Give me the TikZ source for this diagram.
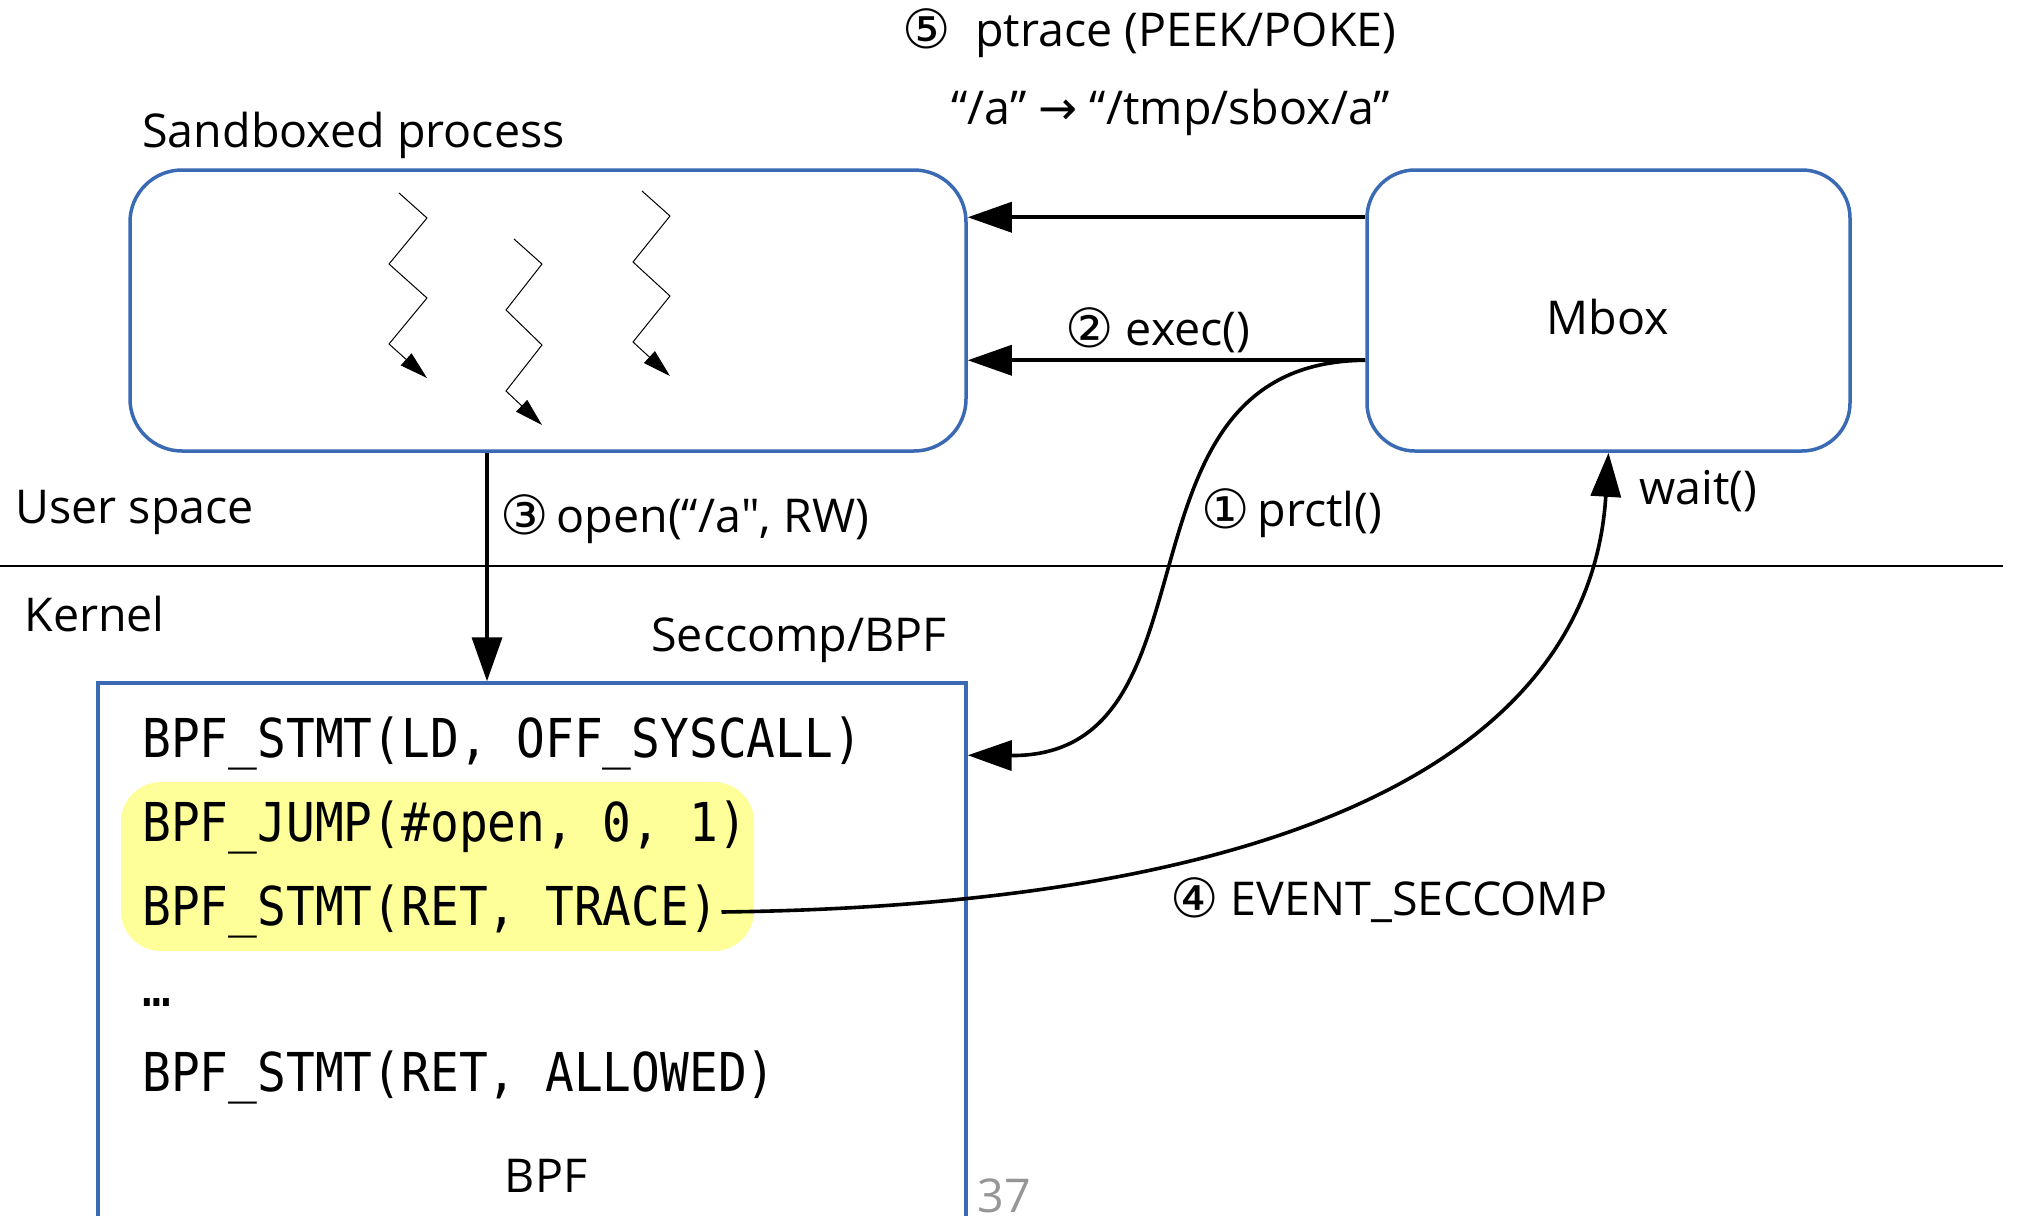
\documentclass[tikz,border=0pt]{standalone}
\usepackage{fontspec}
\setmainfont{Open Sans}
\newfontfamily\codefont[FakeStretch=0.892]{DejaVu Sans Mono}
\newfontfamily\symfont{DejaVu Sans}
\usetikzlibrary{arrows.meta,calc}

\definecolor{frameblue}{RGB}{59,106,180}
\definecolor{hiyellow}{RGB}{255,255,153}
\definecolor{pagenum}{RGB}{150,150,150}

\tikzset{
  frame/.style={draw=frameblue, line width=1.75pt, inner sep=0pt},
  lbl/.style={font=\fontsize{23.3}{28}\selectfont, anchor=base west, inner sep=0pt},
  codeline/.style={font=\codefont\fontsize{26.8}{30}\selectfont, anchor=base west, inner sep=0pt},
  link/.style={line width=1.8pt, -{Triangle[length=22pt,width=15pt]}},
  thread/.style={line width=0.5pt, -{Triangle[length=14pt,width=8pt]}},
}
% circled step numbers, a little larger than the text around them
\newcommand{\circnum}[1]{{\symfont\fontsize{27}{30}\selectfont\raisebox{-1.2pt}{#1}}}
% a straight double quote, kept out of the TeX quote mapping
\newcommand{\straightquote}{\XeTeXglyph\XeTeXcharglyph"22\relax}

\begin{document}
\begin{tikzpicture}[x=0.5pt,y=-0.5pt]
\useasboundingbox (0,0) rectangle (2020,1216);

% user space / kernel boundary
\draw[line width=0.75pt] (0,566) -- (2003,566);

% boxes
\node[frame, rounded corners=26pt, minimum width=418pt, minimum height=140.5pt] (sbox) at (548,310.5) {};
\node[frame, rounded corners=24pt, minimum width=241.5pt, minimum height=140.5pt] (mbox) at (1608.5,310.5) {};
\node[font=\fontsize{23.3}{28}\selectfont, inner sep=0pt] (lmbox) at ($(mbox.center)+(-1,7)$) {Mbox};
\node[frame, minimum width=434pt, minimum height=280pt] (bpf) at (532,963) {};

% highlighted part of the filter program
\fill[hiyellow, rounded corners=20pt] (121,782) rectangle (754,951);

% filter program
\node[codeline] (code1) at (142,757) {BPF\_STMT(LD, OFF\_SYSCALL)};
\node[codeline] (code2) at (142,841) {BPF\_JUMP(\#open, 0, 1)};
\node[codeline] (code3) at (142,925) {BPF\_STMT(RET, TRACE)};
\node[codeline] (code4) at (142,1006) {…};
\node[codeline] (code5) at (142,1091) {BPF\_STMT(RET, ALLOWED)};

% threads inside the sandboxed process
\draw[thread] (399,193) -- (427,218) -- (389,264) -- (427,298) -- (389,344) -- (427,378);
\draw[thread] (514,239) -- (542,264) -- (506,310) -- (542,345) -- (506,391) -- (542,425);
\draw[thread] (642,191) -- (670,216) -- (633,262) -- (670,296) -- (633,342) -- (670,376);

% text labels
\node[lbl] (lsbox) at (142,147) {Sandboxed process};
\node[lbl] (lptrace) at (902,46) {\circnum{⑤}\ \ ptrace (PEEK/POKE)};
\node[lbl] (lrewrite) at (951,124) {“/a” {\symfont →} “/tmp/sbox/a”};
\node[lbl] (lexec) at (1065,345) {\circnum{②} exec()};
\node[lbl] (lopen) at (500,532) {\circnum{③}\,open(“/a\straightquote, RW)};
\node[lbl] (lprctl) at (1201,526) {\circnum{①}\,prctl()};
\node[lbl] (lwait) at (1639,504) {wait()};
\node[lbl] (luser) at (15,523) {User space};
\node[lbl] (lkernel) at (24,631) {Kernel};
\node[lbl] (lseccomp) at (651,651) {Seccomp/BPF};
\node[lbl] (levent) at (1170,915) {\circnum{④} EVENT\_SECCOMP};
\node[lbl, anchor=base] (lbpf) at (546,1192) {BPF};
\node[lbl, text=pagenum] (lpage) at (977,1212) {37};

% connectors
\coordinate (x3) at (487,0);
\draw[link] ($(mbox.north west)+(0,49)$) -- ($(sbox.north east)+(0,49)$);
\draw[link] ($(mbox.north west)+(0,192)$) -- ($(sbox.north east)+(0,192)$);
\draw[link] (sbox.south -| x3) -- (bpf.north -| x3);
\draw[link] ($(mbox.north west)+(0,192)$) .. controls (1100,362) and (1230,757) .. ($(bpf.north east)+(0,74)$);
\draw[link] ($(code3.base east)+(3,-13)$) .. controls (1300,905) and (1590,750) .. (mbox.south);
\end{tikzpicture}
\end{document}
